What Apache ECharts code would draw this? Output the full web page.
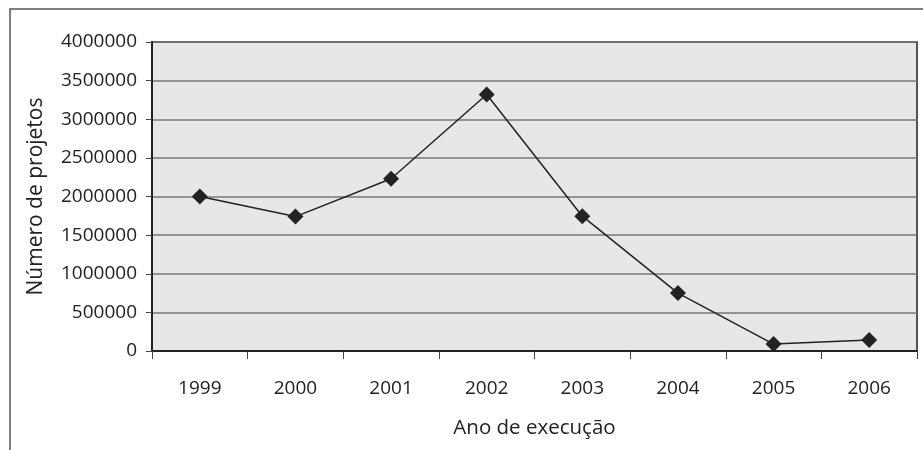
<!DOCTYPE html>
<html><head><meta charset="utf-8">
<script src="https://cdn.jsdelivr.net/npm/echarts@6/dist/echarts.min.js"></script>
<style>html,body{margin:0;padding:0;background:#fff}#c{width:923px;height:450px}</style>
</head><body><div id="c"></div>
<script>
const categories = ['1999','2000','2001','2002','2003','2004','2005','2006'];
const values = [2000000, 1740000, 2230000, 3320000, 1745000, 750000, 90000, 142000];
const yTicks = [0, 500000, 1000000, 1500000, 2000000, 2500000, 3000000, 3500000, 4000000];
const xName = 'Ano de execução';
const yName = 'Número de projetos';

const chart = echarts.init(document.getElementById('c'), null, {renderer:'canvas'});
const font = '"Open Sans", "Noto Sans", sans-serif';
chart.setOption({
  animation: false,
  backgroundColor: '#fff',
  graphic: [{type:'rect', shape:{x:10, y:9, width:940, height:480}, style:{fill:'none', stroke:'#555', lineWidth:1.5}, z:-1}],
  grid: {left:152, top:42, right:6, bottom:99, show:true, backgroundColor:'#e6e7e8', borderColor:'#222', borderWidth:1.5},
  xAxis: {
    type:'category', data:categories, boundaryGap:true,
    name:xName, nameLocation:'middle', nameGap:67,
    nameTextStyle:{fontFamily:font, fontSize:20.5, color:'#222'},
    axisLine:{lineStyle:{color:'#222', width:2}},
    axisTick:{show:true, length:8, lineStyle:{color:'#444'}},
    axisLabel:{fontFamily:font, fontSize:19, color:'#222', margin:28},
    splitLine:{show:false}
  },
  yAxis: {
    type:'value', min:yTicks[0], max:yTicks[yTicks.length-1], interval:yTicks[1]-yTicks[0],
    name:yName, nameLocation:'middle', nameGap:105,
    nameTextStyle:{fontFamily:font, fontSize:21, color:'#222'},
    axisLine:{show:true, lineStyle:{color:'#222', width:2}},
    axisTick:{show:true, length:6, lineStyle:{color:'#444'}},
    axisLabel:{fontFamily:font, fontSize:19, color:'#222', margin:15, formatter: v => String(v)},
    splitLine:{show:true, lineStyle:{color:'#777', width:1.5}}
  },
  series: [{
    type:'line', data:values, symbol:'diamond', symbolSize:16,
    lineStyle:{color:'#222', width:1.5},
    itemStyle:{color:'#222'}
  }]
});
</script></body></html>
